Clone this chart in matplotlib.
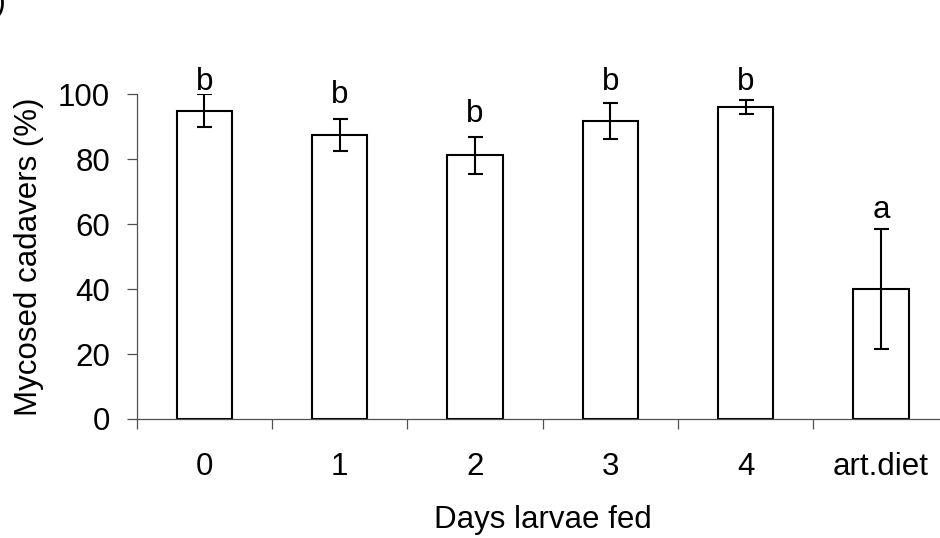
import matplotlib
matplotlib.use("Agg")
import matplotlib.pyplot as plt
import numpy as np

# Mycosis of larval cadavers by number of days larvae were fed
days = ["0", "1", "2", "3", "4", "art.diet"]
mycosed = [95.0, 87.5, 81.2, 91.7, 96.0, 40.0]
err = [5.0, 4.9, 5.8, 5.5, 2.2, 18.5]
letters = ["b", "b", "b", "b", "b", "a"]
letter_y = [101.4, 97.4, 91.5, 101.2, 101.2, 61.8]

plt.rcParams["font.family"] = ["Liberation Sans", "DejaVu Sans"]
fs = 22.5

fig = plt.figure(figsize=(9.4, 5.38), dpi=100)
ax = fig.add_axes([136.7 / 940, 1 - 419 / 538, 812 / 940, 324.7 / 538])

x = np.arange(len(days))
ax.bar(x, mycosed, width=0.41, facecolor="white", edgecolor="black",
       linewidth=1.5, zorder=2)
ax.errorbar(x, mycosed, yerr=err, fmt="none", ecolor="black",
            elinewidth=1.5, capsize=5.4, capthick=1.5, zorder=3)

for xi, lab, ly in zip(x, letters, letter_y):
    ax.text(xi, ly, lab, ha="center", va="baseline", fontsize=fs)

ax.set_xlim(-0.5, len(days) - 0.5)
ax.set_ylim(0, 100)

for side in ["top", "right"]:
    ax.spines[side].set_visible(False)
for side in ["left", "bottom"]:
    ax.spines[side].set_color("#505050")
    ax.spines[side].set_linewidth(0.9)

ax.set_yticks(np.arange(0, 101, 20))
ax.tick_params(axis="y", direction="out", length=7.2, width=0.9,
               color="#505050", labelsize=fs, pad=12)

ax.set_xticks(x)
ax.set_xticklabels(days)
ax.set_xticks(np.arange(-0.5, len(days)), minor=True)
ax.tick_params(axis="x", which="major", length=0, labelsize=fs, pad=23.5)
ax.tick_params(axis="x", which="minor", direction="out", length=7.2,
               width=0.9, color="#505050")

ax.set_ylabel("Mycosed cadavers (%)", fontsize=fs, labelpad=10)
ax.set_xlabel("Days larvae fed", fontsize=fs, labelpad=16.5)

# panel letter, mostly past the left edge
fig.text(-21 / 940, 1 - 11 / 538, "b)", fontsize=fs, ha="left", va="baseline")

fig.savefig("out.png", dpi=100)
